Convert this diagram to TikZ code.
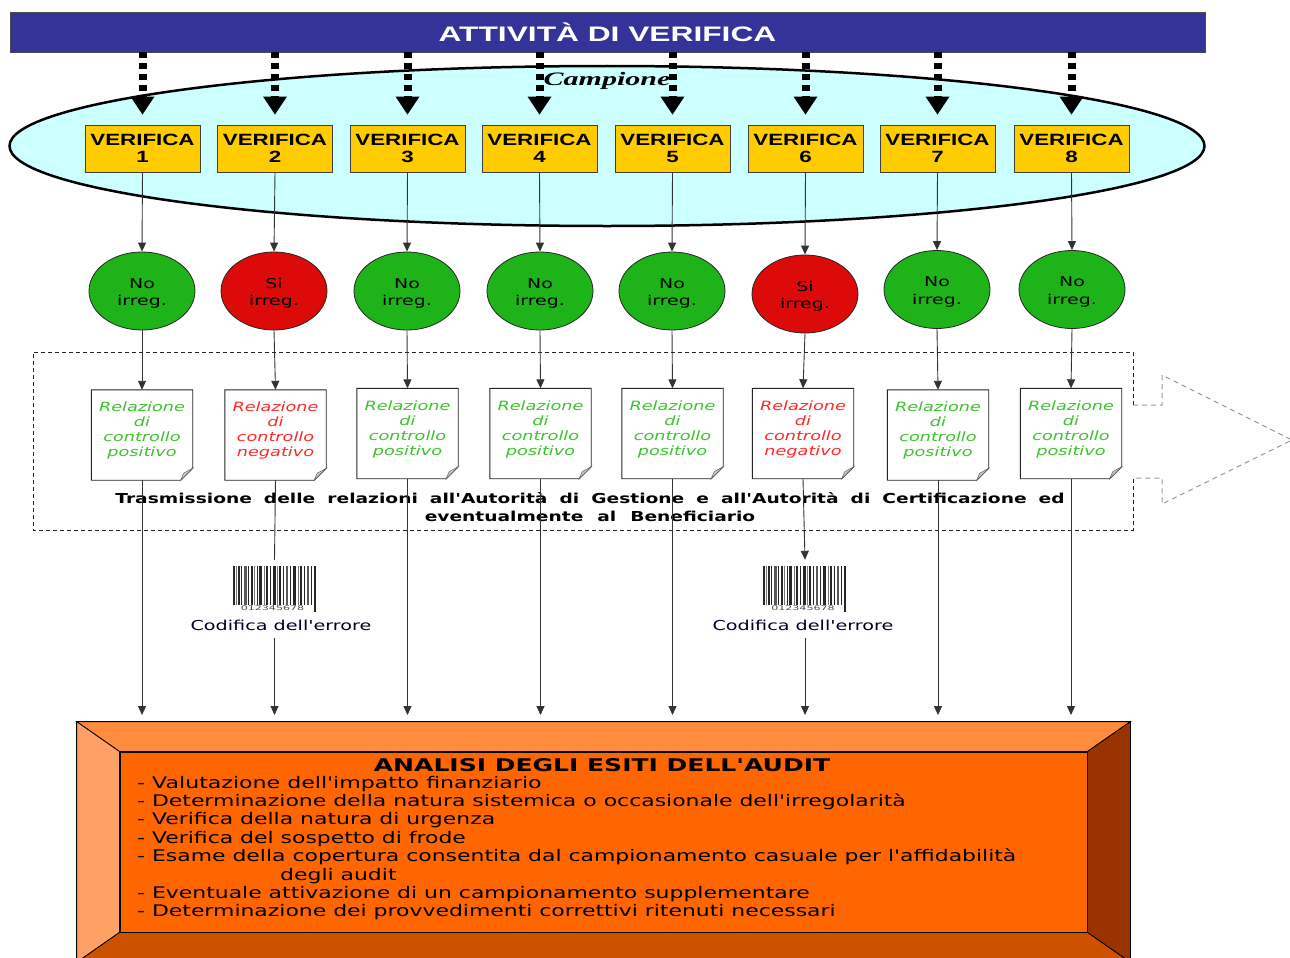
\documentclass[tikz,border=0pt]{standalone}
\usepackage{fontspec}
\usepackage{graphicx}
\setmainfont{DejaVu Sans}
\newfontfamily\dv{DejaVu Sans}
\newfontfamily\arialf{Liberation Sans}
\newfontfamily\timesf{Liberation Serif}
\usetikzlibrary{arrows.meta,shapes.geometric}
\definecolor{titleblue}{RGB}{51,51,153}
\definecolor{sampcyan}{RGB}{204,255,255}
\definecolor{veryellow}{RGB}{255,204,0}
\definecolor{okgreen}{RGB}{30,180,25}
\definecolor{kored}{RGB}{221,10,10}
\definecolor{txtgreen}{RGB}{60,195,45}
\definecolor{txtred}{RGB}{255,40,40}
\definecolor{orin}{RGB}{255,102,0}
\definecolor{ortop}{RGB}{255,140,60}
\definecolor{orleft}{RGB}{255,160,100}
\definecolor{orright}{RGB}{153,51,0}
\definecolor{orbot}{RGB}{204,82,0}
\newcommand{\hx}[3][0pt]{\raisebox{#1}[\height][\depth]{\scalebox{#2}[1]{#3}}}
\newcommand{\two}[2]{\begin{tabular}{@{}c@{}}#1\\#2\end{tabular}}
\newcommand{\four}[4]{\begin{tabular}{@{}c@{}}#1\\#2\\#3\\#4\end{tabular}}
\begin{document}
\begin{tikzpicture}[x=1pt,y=-1pt,
  vbox/.style={draw=black!75, line width=0.8pt, fill=veryellow, minimum width=115pt, minimum height=47pt, inner sep=0pt, font=\arialf\bfseries\fontsize{16.3}{17}\selectfont},
  circ/.style={ellipse, draw=black!85, line width=0.8pt, minimum width=106pt, minimum height=78pt, inner sep=0pt, font=\dv\fontsize{13.5}{17.5}\selectfont},
  docn/.style={minimum width=101pt, minimum height=90pt, inner sep=0pt},
  doctext/.style={inner sep=0pt, font=\dv\itshape\fontsize{12.8}{15}\selectfont},
  arr/.style={-{Triangle[length=9pt,width=8pt]}, line width=0.9pt, draw=black!80},
  plain/.style={line width=0.9pt, draw=black!80},
  dotline/.style={line width=8pt, dash pattern=on 6pt off 5pt},
  codl/.style={inner sep=0pt, text=black!85!blue, font=\dv\fontsize{13.7}{16}\selectfont},
  anal/.style={inner sep=0pt, anchor=base west, font=\dv\fontsize{16}{18}\selectfont}
]
\useasboundingbox (0,0) rectangle (1290,958);
\fill[white] (0,0) rectangle (1290,958);

% sample ellipse
\node[ellipse, draw=black, line width=2.5pt, fill=sampcyan, minimum width=1195pt, minimum height=160pt, inner sep=0pt] (samp) at (607,146) {};
\node[anchor=base, inner sep=0pt, font=\timesf\bfseries\itshape\fontsize{19}{19}\selectfont] (camp) at (607,85) {\hx{1.58}{Campione}};

% title bar
\node[draw=black!70, fill=titleblue, minimum width=1195pt, minimum height=40pt, inner sep=0pt, text=white, font=\arialf\bfseries\fontsize{21}{21}\selectfont] (title) at (607.5,32) {\hx{1.51}{ATTIVITÀ DI VERIFICA}};

% verifica boxes
\foreach \i/\x in {1/142.5,2/275,3/407.5,4/539.5,5/672.5,6/805.5,7/937.5,8/1071.5}
  \node[vbox] (v\i) at (\x,148.5) {\hx[-2.5pt]{1.37}{\two{VERIFICA}{\i}}};

% dotted arrows
\foreach \i in {1,...,8}{
  \draw[dotline] (v\i.north |- title.south) -- ([yshift=26pt]v\i.north);
  \fill ([yshift=28pt]v\i.north) ++(-12,0) -- ++(24,0) -- ++(-12,18) -- cycle;
}

% circles
\foreach \i/\x/\y/\c/\t in {1/142/291/okgreen/No,2/274/291/kored/Si,3/407/291/okgreen/No,4/540/291/okgreen/No,5/672/291/okgreen/No,6/805/294/kored/Si,7/937/289.5/okgreen/No,8/1072/289.5/okgreen/No}
  \node[circ, fill=\c] (c\i) at (\x,\y) {\hx[-2.3pt]{1.4}{\two{\t}{irreg.}}};

% dashed frame and arrow
\draw[black!85, line width=0.8pt, dash pattern=on 4pt off 3pt] (1133,405) -- (1133,352) -- (33,352) -- (33,530) -- (1133,530) -- (1133,478);
\draw[gray!80, line width=1pt, dash pattern=on 5pt off 4pt] (1133,405) -- (1162,405) -- (1162,375) -- (1292,440) -- (1162,504) -- (1162,478) -- (1133,478);

% documents
\foreach \i/\x/\y/\c/\w in {1/142/435/txtgreen/positivo,2/275.5/435/txtred/negativo,3/407.5/433.5/txtgreen/positivo,4/540.5/433.5/txtgreen/positivo,5/672.5/433.5/txtgreen/positivo,6/803/433.5/txtred/negativo,7/938/435/txtgreen/positivo,8/1071/433.5/txtgreen/positivo}{
  \node[docn] (d\i) at (\x,\y) {};
  \filldraw[fill=white, draw=black!85, line width=0.9pt] (d\i.north west) -- (d\i.north east) -- ([yshift=12pt]d\i.south east) -- ([xshift=-12pt]d\i.south east) -- (d\i.south west) -- cycle;
  \filldraw[fill=gray!45, draw=black!60, line width=0.5pt] ([yshift=12pt]d\i.south east) -- ([xshift=-12pt]d\i.south east) -- ([xshift=-9pt,yshift=7pt]d\i.south east) -- cycle;
  \node[doctext, text=\c] (t\i) at (d\i) {\hx[3.8pt]{1.38}{\four{Relazione}{di}{controllo}{\w}}};
}

% arrows upper part
\foreach \i in {1,...,8}{
  \draw[arr] (v\i.south) -- (c\i.north);
  \draw[arr] (c\i.south) -- (d\i.north);
}

% barcodes
\foreach \i/\x in {2/274.5,6/805}{
  \node[minimum width=83pt, minimum height=46pt, inner sep=0pt] (bc\i) at (\x,589) {};
  \foreach \a/\w/\s in {0/2/85,3/1/55,5/2/85,8/1/85,11/3/65,15/1/85,18/2/85,21/1/55,24/1/85,26/3/85,31/1/55,33/2/85,37/1/85,40/3/85,44/1/55,46/2/85,50/1/85,53/2/65,57/1/85,60/3/85,65/1/55,67/2/85,71/1/85,74/2/65,78/1/85}
    \fill[black!\s] ([xshift=\a pt]bc\i.north west) rectangle ++(\w,39);
  \fill[black!85] ([xshift=81pt]bc\i.north west) rectangle ++(2,46);
  \node[inner sep=0pt, text=black!70, font=\dv\fontsize{6.5}{6.5}\selectfont] (num\i) at ([xshift=-2pt,yshift=4pt]bc\i.south) {\hx{1.7}{012345678}};
}
\node[codl] (cod2) at (281,625) {\hx{1.4}{Codifica dell'errore}};
\node[codl] (cod6) at (803,625) {\hx{1.4}{Codifica dell'errore}};

% transmission text
\node[inner sep=0pt, font=\dv\bfseries\fontsize{13.7}{18}\selectfont] (tras) at (590,508.4) {\hx{1.36}{\begin{tabular}{@{}c@{}}\makebox[698pt][s]{Trasmissione delle relazioni all'Autorità di Gestione e all'Autorità di Certificazione ed}\\\makebox[243pt][s]{eventualmente al Beneficiario}\end{tabular}}};

% lower connectors
\coordinate (atop) at (0,715);
\foreach \i in {1,3,4,5,7,8}
  \draw[arr] (d\i.south) -- (d\i.south |- atop);
\draw[plain] (d2.south) -- ([yshift=6pt]bc2.north);
\draw[arr] (d6.south) -- ([yshift=6pt]bc6.north);
\draw[arr, shorten <=7pt] (bc2 |- cod2.south) -- (bc2 |- atop);
\draw[arr, shorten <=7pt] (bc6 |- cod6.south) -- (bc6 |- atop);

% analysis box
\node[draw=black, line width=0.8pt, fill=orin, minimum width=967pt, minimum height=180pt, inner sep=0pt] (ana) at (603.5,842) {};
\coordinate (onw) at ([xshift=-43pt,yshift=30pt]ana.north west);
\coordinate (one) at ([xshift=43pt,yshift=30pt]ana.north east);
\coordinate (osw) at ([xshift=-43pt,yshift=-30pt]ana.south west);
\coordinate (ose) at ([xshift=43pt,yshift=-30pt]ana.south east);
\filldraw[fill=ortop, draw=black, line width=0.8pt] (onw) -- (one) -- (ana.north east) -- (ana.north west) -- cycle;
\filldraw[fill=orleft, draw=black, line width=0.8pt] (onw) -- (ana.north west) -- (ana.south west) -- (osw) -- cycle;
\filldraw[fill=orright, draw=black, line width=0.8pt] (one) -- (ana.north east) -- (ana.south east) -- (ose) -- cycle;
\filldraw[fill=orbot, draw=black, line width=0.8pt] (ana.south west) -- (ana.south east) -- (ose) -- (osw) -- cycle;

\node[inner sep=0pt, anchor=base, font=\dv\bfseries\fontsize{17.5}{18}\selectfont] (atitle) at (602,771) {\hx{1.43}{ANALISI DEGLI ESITI DELL'AUDIT}};
\node[anal] (l1) at (137,788) {\hx{1.38}{- Valutazione dell'impatto finanziario}};
\node[anal] (l2) at (137,806.4) {\hx{1.37}{- Determinazione della natura sistemica o occasionale dell'irregolarità}};
\node[anal] (l3) at (137,824.8) {\hx{1.37}{- Verifica della natura di urgenza}};
\node[anal] (l4) at (137,843.2) {\hx{1.37}{- Verifica del sospetto di frode}};
\node[anal] (l5) at (137,861.6) {\hx{1.37}{- Esame della copertura consentita dal campionamento casuale per l'affidabilità}};
\node[anal] (l6) at (280,880) {\hx{1.37}{degli audit}};
\node[anal] (l7) at (137,898.4) {\hx{1.37}{- Eventuale attivazione di un campionamento supplementare}};
\node[anal] (l8) at (137,916.8) {\hx{1.37}{- Determinazione dei provvedimenti correttivi ritenuti necessari}};
\end{tikzpicture}
\end{document}
